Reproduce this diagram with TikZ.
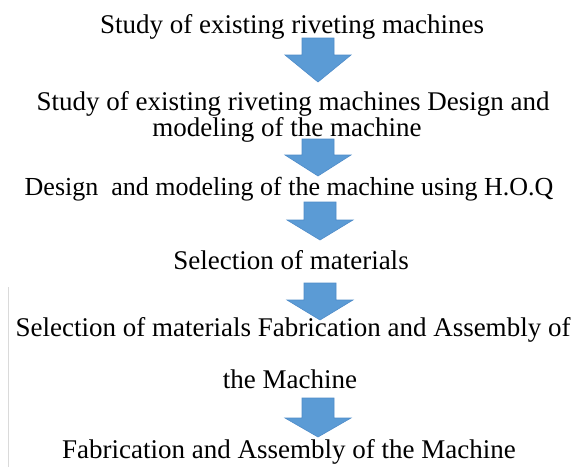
\documentclass[tikz,border=0pt]{standalone}
\usepackage{fontspec}
\setmainfont{Liberation Serif}
\definecolor{arrowblue}{HTML}{5B9BD5}
\definecolor{arrowedge}{HTML}{4F8CC9}
\definecolor{edgegray}{HTML}{DADADA}
\tikzset{
  lbl/.style={anchor=base, inner sep=0pt, font=\fontsize{27}{30}\selectfont, text=black},
  blk/.style={fill=arrowblue, draw=arrowedge, line width=0.6pt, line join=miter},
  pics/downarrow/.style n args={2}{code={
    \path[blk] (-16,0) -- (16,0) -- (16,#1) -- (33,#1) -- (0,{#1+#2}) -- (-33,#1) -- (-16,#1) -- cycle;
  }}
}
\begin{document}
\begin{tikzpicture}[x=1pt, y=-1pt]
  \useasboundingbox (0,0) rectangle (574,467);
  \fill[white] (0,0) rectangle (574,467);
  % faint left edge line
  \coordinate (gtop) at (8,287);
  \coordinate (gbot) at (8,467);
  \draw[edgegray, line width=1pt] (gtop) -- (gbot);

  \node[lbl] (l1)  at (292,33) {Study of existing riveting machines};
  \pic (a1) at (318,38) {downarrow={17}{27}};
  \node[lbl] (l2a) at (293,110) {Study of existing riveting machines Design and};
  \node[lbl] (l2b) at (287,136) {modeling of the machine};
  \pic (a2) at (318,139) {downarrow={16}{21}};
  \node[lbl, font=\fontsize{26}{30}\selectfont] (l3) at (289,195) {Design\ \ and modeling of the machine using H.O.Q};
  \pic (a3) at (320,202) {downarrow={18}{20}};
  \node[lbl] (l4)  at (291,269) {Selection of materials};
  \pic (a4) at (320,283) {downarrow={17}{20}};
  \node[lbl] (l5a) at (293,336) {Selection of materials Fabrication and Assembly of};
  \node[lbl] (l5b) at (290,388) {the Machine};
  \pic (a5) at (318,398) {downarrow={20}{19}};
  \node[lbl] (l6)  at (289,458) {Fabrication and Assembly of the Machine};
\end{tikzpicture}
\end{document}
